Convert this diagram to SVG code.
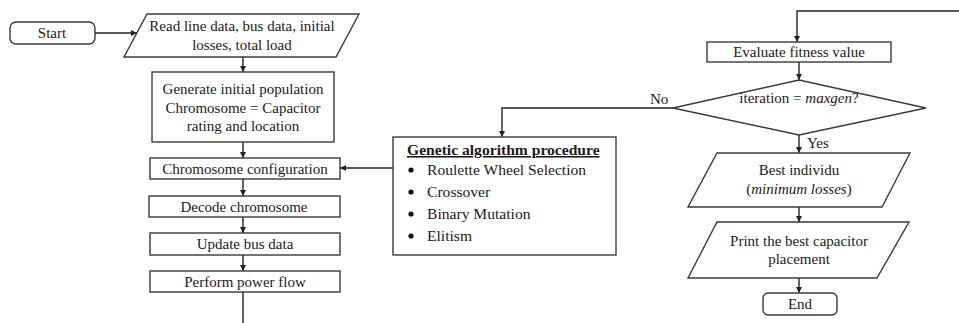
<svg xmlns="http://www.w3.org/2000/svg" width="959" height="323" viewBox="0 0 959 323">
<style>
.s{fill:#fff;stroke:#3a3a3a;stroke-width:1.4}
.t{font-family:"Liberation Serif","Times New Roman",serif;font-size:15px;fill:#1a1a1a;text-anchor:middle}
.l{font-family:"Liberation Serif","Times New Roman",serif;font-size:15px;fill:#1a1a1a}
.g{font-family:"Liberation Serif","Times New Roman",serif;font-size:15.6px;fill:#1a1a1a}
.c{fill:none;stroke:#222;stroke-width:1.4}
</style>
<defs>
<marker id="a" viewBox="0 0 8 8" refX="8" refY="4" markerWidth="6" markerHeight="6" markerUnits="userSpaceOnUse" orient="auto">
<path d="M0,0 L8,4 L0,8 Z" fill="#222"/>
</marker>
</defs>
<rect width="959" height="323" fill="#fff"/>
<g id="connectors">
<path class="c" d="M95,33 H137" marker-end="url(#a)"/>
<path class="c" d="M243,57 V72" marker-end="url(#a)"/>
<path class="c" d="M243,142 V158" marker-end="url(#a)"/>
<path class="c" d="M243,179 V196" marker-end="url(#a)"/>
<path class="c" d="M243,217 V233" marker-end="url(#a)"/>
<path class="c" d="M243,255 V271" marker-end="url(#a)"/>
<path class="c" d="M243,292 V323"/>
<path class="c" d="M959,11 H797 V42" marker-end="url(#a)"/>
<path class="c" d="M799,62 V80" marker-end="url(#a)"/>
<path class="c" d="M673,108 H502 V137" marker-end="url(#a)"/>
<path class="c" d="M393,168 H340" marker-end="url(#a)"/>
<path class="c" d="M799,135 V153" marker-end="url(#a)"/>
<path class="c" d="M799,207 V222" marker-end="url(#a)"/>
<path class="c" d="M799,278 V293" marker-end="url(#a)"/>
<text class="l" x="650" y="104">No</text>
<text class="l" x="807" y="148">Yes</text>
</g>
<g id="start">
<rect class="s" x="10" y="22" width="85" height="22" rx="6"/>
<text class="t" x="52" y="38">Start</text>
</g>
<g id="read">
<polygon class="s" points="147,14 359,14 336,57 124,57"/>
<text class="t" x="242" y="31">Read line data, bus data, initial</text>
<text class="t" x="242" y="50">losses, total load</text>
</g>
<g id="generate">
<rect class="s" x="152" y="72" width="182" height="70"/>
<text class="t" x="243" y="94">Generate initial population</text>
<text class="t" x="243" y="113">Chromosome =  Capacitor</text>
<text class="t" x="243" y="131">rating and location</text>
</g>
<g id="chromconf">
<rect class="s" x="150" y="158" width="190" height="21"/>
<text class="t" x="245" y="174">Chromosome configuration</text>
</g>
<g id="decode">
<rect class="s" x="149" y="196" width="191" height="21"/>
<text class="t" x="244" y="212">Decode chromosome</text>
</g>
<g id="update">
<rect class="s" x="150" y="233" width="190" height="22"/>
<text class="t" x="245" y="249">Update bus data</text>
</g>
<g id="powerflow">
<rect class="s" x="150" y="271" width="190" height="21"/>
<text class="t" x="245" y="287">Perform power flow</text>
</g>
<g id="ga">
<rect class="s" x="393" y="137" width="223" height="118"/>
<text class="g" x="407" y="155" font-weight="bold" text-decoration="underline">Genetic algorithm procedure</text>
<circle cx="411" cy="170" r="2.6" fill="#111"/>
<text class="g" x="427" y="175">Roulette Wheel Selection</text>
<circle cx="411" cy="192" r="2.6" fill="#111"/>
<text class="g" x="427" y="197">Crossover</text>
<circle cx="411" cy="214" r="2.6" fill="#111"/>
<text class="g" x="427" y="219">Binary Mutation</text>
<circle cx="411" cy="236" r="2.6" fill="#111"/>
<text class="g" x="427" y="241">Elitism</text>
</g>
<g id="evaluate">
<rect class="s" x="707" y="42" width="184" height="20"/>
<text class="t" x="799" y="57">Evaluate fitness value</text>
</g>
<g id="decision">
<polygon class="s" points="673,108 799,80 926,108 799,135"/>
<text class="t" x="799" y="103">iteration = <tspan font-style="italic">maxgen</tspan>?</text>
</g>
<g id="best">
<polygon class="s" points="717,153 910,153 882,207 688,207"/>
<text class="t" x="799" y="175">Best individu</text>
<text class="t" x="799" y="194">(<tspan font-style="italic">minimum losses</tspan>)</text>
</g>
<g id="print">
<polygon class="s" points="717,222 909,222 877,278 688,278"/>
<text class="t" x="799" y="246">Print the best capacitor</text>
<text class="t" x="799" y="264">placement</text>
</g>
<g id="end">
<rect class="s" x="763" y="293" width="74" height="22" rx="5"/>
<text class="t" x="800" y="309">End</text>
</g>
</svg>
